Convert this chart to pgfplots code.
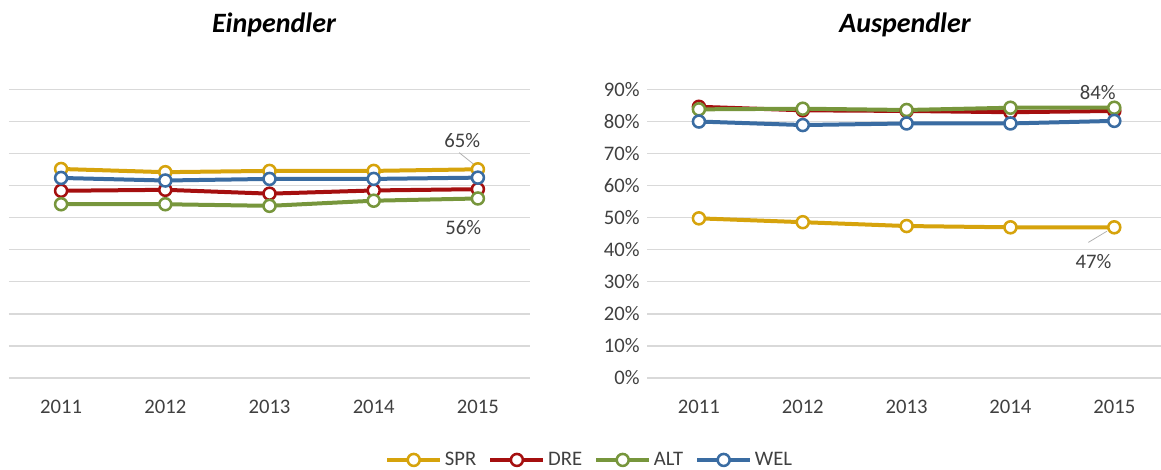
\documentclass[border=0pt]{standalone}
\usepackage{fontspec}
\setmainfont{Carlito}
\usepackage{pgfplots}
\pgfplotsset{compat=1.18}

\definecolor{spr}{HTML}{D6A30C}
\definecolor{dre}{HTML}{A50F0F}
\definecolor{alt}{HTML}{77963C}
\definecolor{wel}{HTML}{3A6CA2}
\definecolor{gridc}{HTML}{D9D9D9}
\definecolor{txt}{HTML}{404040}

\pgfplotsset{
  pend/.style={
    scale only axis,
    height=216.4pt,
    xmin=2010.5, xmax=2015.5,
    ymin=0, ymax=90,
    xtick={2011,2012,2013,2014,2015},
    xticklabels={2011,2012,2013,2014,2015},
    ytick={0,10,...,90},
    ymajorgrids,
    grid style={draw=gridc, line width=1pt},
    axis line style={draw=none},
    major tick length=0pt,
    clip=false,
    /pgf/number format/assume math mode=true,
    tick label style={font=\fontsize{15.5}{18}\selectfont, text=txt},
    xticklabel style={anchor=center, yshift=-21.5pt},
    every axis plot/.append style={line width=3pt, mark=*, mark size=4.5pt,
      mark options={fill=white, line width=1.9pt}},
  },
}
\tikzset{lab/.style={font=\fontsize{15.5}{18}\selectfont, text=txt}}

\begin{document}
\begin{tikzpicture}
\useasboundingbox (0,0) rectangle (870.75pt,352.5pt);

% Einpendler
\begin{axis}[pend, at={(6.75pt,69pt)}, width=390.75pt, yticklabels={}]
\addplot[spr] coordinates {(2011,65.2) (2012,64.2) (2013,64.6) (2014,64.6) (2015,65.1)};
\addplot[dre] coordinates {(2011,58.4) (2012,58.7) (2013,57.5) (2014,58.5) (2015,58.9)};
\addplot[alt] coordinates {(2011,54.2) (2012,54.2) (2013,53.7) (2014,55.3) (2015,56.0)};
\addplot[wel] coordinates {(2011,62.4) (2012,61.6) (2013,62.1) (2014,62.1) (2015,62.5)};
\draw[gray!60, line width=0.6pt] (axis cs:2014.82,70.3) -- (axis cs:2014.97,66.4);
\node[lab] at (axis cs:2014.85,74) {65\%};
\node[lab] at (axis cs:2014.86,46.8) {56\%};
\end{axis}

% Auspendler
\begin{axis}[pend, at={(485.25pt,69pt)}, width=385.5pt, xmax=2015.45,
  yticklabel={\pgfmathprintnumber{\tick}\%},
  yticklabel style={anchor=east, xshift=-2pt},
  legend columns=4,
  legend style={at={(-0.111,-0.284)}, anchor=center, draw=none, fill=none,
    font=\fontsize{15.5}{18}\selectfont, text=txt,
    /tikz/every even column/.append style={column sep=7pt}},
  legend image code/.code={%
    \draw[mark repeat=2, mark phase=2, #1] plot coordinates {(0cm,0cm) (0.7cm,0cm) (1.4cm,0cm)};},
]
\addplot[spr] coordinates {(2011,49.8) (2012,48.6) (2013,47.4) (2014,47.0) (2015,47.0)};
\addplot[dre] coordinates {(2011,84.6) (2012,83.5) (2013,83.3) (2014,82.9) (2015,83.3)};
\addplot[alt] coordinates {(2011,83.8) (2012,84.0) (2013,83.6) (2014,84.3) (2015,84.3)};
\addplot[wel] coordinates {(2011,80.0) (2012,78.9) (2013,79.4) (2014,79.4) (2015,80.2)};
\legend{SPR,DRE,ALT,WEL}
\draw[gray!60, line width=0.6pt] (axis cs:2014.75,42.3) -- (axis cs:2014.93,45.8);
\node[lab] at (axis cs:2014.84,89.2) {84\%};
\node[lab] at (axis cs:2014.80,36.2) {47\%};
\end{axis}

\node[font=\fontsize{21}{24}\selectfont\bfseries\itshape] at (205.5pt,333.75pt) {Einpendler};
\node[font=\fontsize{21}{24}\selectfont\bfseries\itshape] at (678.75pt,333.75pt) {Auspendler};
\end{tikzpicture}
\end{document}
